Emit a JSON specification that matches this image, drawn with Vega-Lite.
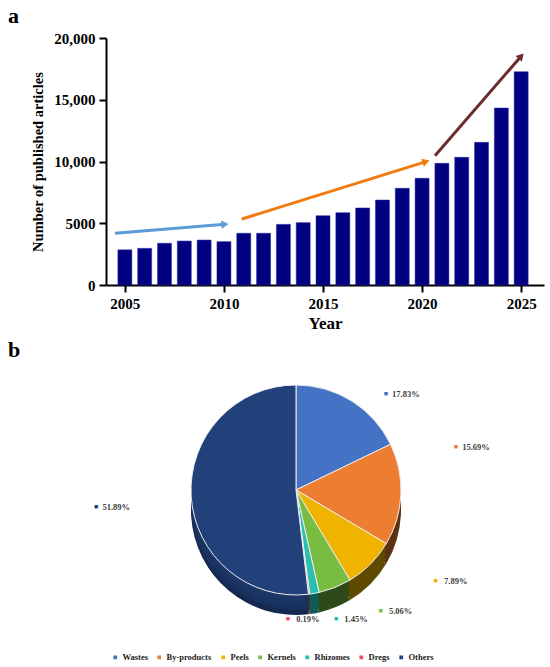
{
  "$schema": "https://vega.github.io/schema/vega-lite/v6.json",
  "padding": {"left": 8, "top": 5, "right": 5, "bottom": 5},
  "title": {"text": "a", "anchor": "start", "frame": "bounds", "fontSize": 22, "fontWeight": "bold", "offset": 3, "color": "black"},
  "config": {
    "font": "Liberation Serif",
    "view": {"stroke": null},
    "axis": {"grid": false, "domainColor": "black", "domainWidth": 2, "tickColor": "black", "tickWidth": 2, "tickSize": 7,
             "labelFontSize": 15, "labelFontWeight": "bold", "labelColor": "black", "titleFontSize": 16, "titleFontWeight": "bold", "titleColor": "black", "labelPadding": 4}
  },
  "spacing": 8,
  "resolve": {"scale": {"color": "independent"}},
  "vconcat": [
    {
      "width": 438,
      "height": 247,
      "layer": [
        {
          "data": {"values": [
            {"year": 2005, "articles": 2850}, {"year": 2006, "articles": 2970}, {"year": 2007, "articles": 3380},
            {"year": 2008, "articles": 3560}, {"year": 2009, "articles": 3640}, {"year": 2010, "articles": 3510},
            {"year": 2011, "articles": 4190}, {"year": 2012, "articles": 4190}, {"year": 2013, "articles": 4910},
            {"year": 2014, "articles": 5050}, {"year": 2015, "articles": 5610}, {"year": 2016, "articles": 5860},
            {"year": 2017, "articles": 6240}, {"year": 2018, "articles": 6880}, {"year": 2019, "articles": 7830},
            {"year": 2020, "articles": 8640}, {"year": 2021, "articles": 9850}, {"year": 2022, "articles": 10340},
            {"year": 2023, "articles": 11550}, {"year": 2024, "articles": 14330}, {"year": 2025, "articles": 17270}
          ]},
          "mark": {"type": "bar", "width": 14, "color": "#000080", "stroke": "#2a2aa8", "strokeWidth": 0.5},
          "encoding": {
            "x": {"field": "year", "type": "quantitative", "scale": {"domain": [2004.3, 2025.9], "nice": false, "zero": false},
                  "axis": {"values": [2005, 2010, 2015, 2020, 2025], "format": "d", "title": "Year", "titlePadding": 4, "titleFontSize": 17}},
            "y": {"field": "articles", "type": "quantitative", "scale": {"domain": [0, 20000], "nice": false},
                  "axis": {"values": [0, 5000, 10000, 15000, 20000], "title": "Number of published articles", "titlePadding": 8, "titleFontSize": 14.5,
                           "labelExpr": "datum.value >= 10000 ? format(datum.value, ',') : format(datum.value, 'd')"}}
          }
        },
        {
          "data": {"values": [
            {"arrow": "early", "x": 2004.5, "y": 4190, "x2": 2010.05, "y2": 4910},
            {"arrow": "middle", "x": 2010.9, "y": 5340, "x2": 2020.2, "y2": 9990},
            {"arrow": "late", "x": 2020.65, "y": 10470, "x2": 2025.0, "y2": 18530}
          ]},
          "layer": [
            {
              "mark": {"type": "rule", "strokeWidth": 3},
              "encoding": {
                "x": {"field": "x", "type": "quantitative"},
                "y": {"field": "y", "type": "quantitative"},
                "x2": {"field": "x2"},
                "y2": {"field": "y2"},
                "color": {"field": "arrow", "type": "nominal", "legend": null,
                          "scale": {"domain": ["early", "middle", "late"], "range": ["#5B9BD5", "#F07C10", "#6E2B2B"]}}
              }
            },
            {
              "transform": [{"filter": "datum.arrow == 'early'"}],
              "mark": {"type": "point", "shape": "triangle-right", "filled": true, "size": 70, "opacity": 1, "angle": 355.5},
              "encoding": {
                "x": {"field": "x2", "type": "quantitative"},
                "y": {"field": "y2", "type": "quantitative"},
                "color": {"field": "arrow", "type": "nominal", "legend": null}
              }
            },
            {
              "transform": [{"filter": "datum.arrow == 'middle'"}],
              "mark": {"type": "point", "shape": "triangle-right", "filled": true, "size": 70, "opacity": 1, "angle": 343},
              "encoding": {
                "x": {"field": "x2", "type": "quantitative"},
                "y": {"field": "y2", "type": "quantitative"},
                "color": {"field": "arrow", "type": "nominal", "legend": null}
              }
            },
            {
              "transform": [{"filter": "datum.arrow == 'late'"}],
              "mark": {"type": "point", "shape": "triangle-right", "filled": true, "size": 70, "opacity": 1, "angle": 311.6},
              "encoding": {
                "x": {"field": "x2", "type": "quantitative"},
                "y": {"field": "y2", "type": "quantitative"},
                "color": {"field": "arrow", "type": "nominal", "legend": null}
              }
            }
          ]
        }
      ]
    },
    {
      "width": 380,
      "height": 260,
      "title": {"text": "b", "anchor": "start", "frame": "group", "fontSize": 22, "fontWeight": "bold", "dx": -98, "offset": 2, "color": "black"},
      "data": {"values": [
        {"source": "Wastes", "share": 0.1783, "rank": 1},
        {"source": "By-products", "share": 0.1569, "rank": 2},
        {"source": "Peels", "share": 0.0789, "rank": 3},
        {"source": "Kernels", "share": 0.0506, "rank": 4},
        {"source": "Rhizomes", "share": 0.0145, "rank": 5},
        {"source": "Dregs", "share": 0.0019, "rank": 6},
        {"source": "Others", "share": 0.5189, "rank": 7}
      ]},
      "encoding": {
        "theta": {"field": "share", "type": "quantitative", "stack": true},
        "order": {"field": "rank", "type": "quantitative"}
      },
      "layer": [
        {
          "mark": {"type": "arc", "outerRadius": 105, "yOffset": 16},
          "encoding": {"color": {"field": "source", "type": "nominal", "legend": null,
            "scale": {"domain": ["Wastes", "By-products", "Peels", "Kernels", "Rhizomes", "Dregs", "Others"],
                      "range": ["#2b4a80", "#5c3210", "#5e4a00", "#2e4a1a", "#0f5c55", "#5a1a1e", "#152850"]}}}
        },
        {
          "mark": {"type": "arc", "outerRadius": 105, "yOffset": 11},
          "encoding": {"color": {"field": "source", "type": "nominal", "legend": null,
            "scale": {"domain": ["Wastes", "By-products", "Peels", "Kernels", "Rhizomes", "Dregs", "Others"],
                      "range": ["#2b4a80", "#5c3210", "#5e4a00", "#2e4a1a", "#0f5c55", "#5a1a1e", "#18305c"]}}}
        },
        {
          "mark": {"type": "arc", "outerRadius": 105, "yOffset": 6},
          "encoding": {"color": {"field": "source", "type": "nominal", "legend": null,
            "scale": {"domain": ["Wastes", "By-products", "Peels", "Kernels", "Rhizomes", "Dregs", "Others"],
                      "range": ["#2b4a80", "#5c3210", "#5e4a00", "#2e4a1a", "#0f5c55", "#5a1a1e", "#1a3462"]}}}
        },
        {
          "mark": {"type": "arc", "outerRadius": 105, "yOffset": 1},
          "encoding": {"color": {"field": "source", "type": "nominal", "legend": null,
            "scale": {"domain": ["Wastes", "By-products", "Peels", "Kernels", "Rhizomes", "Dregs", "Others"],
                      "range": ["#2b4a80", "#5c3210", "#5e4a00", "#2e4a1a", "#0f5c55", "#5a1a1e", "#1c3766"]}}}
        },
        {
          "mark": {"type": "arc", "outerRadius": 105, "yOffset": -4, "stroke": "#eeeeee", "strokeWidth": 1},
          "encoding": {"color": {"field": "source", "type": "nominal", "sort": null,
            "scale": {"domain": ["Wastes", "By-products", "Peels", "Kernels", "Rhizomes", "Dregs", "Others"],
                      "range": ["#4472C4", "#ED7D31", "#F0B400", "#78BC42", "#2BBFB0", "#F0506A", "#22407A"]},
            "legend": {"orient": "none", "legendX": 5, "legendY": 289, "direction": "horizontal", "title": null,
                       "symbolType": "square", "symbolSize": 14, "symbolStrokeWidth": 0, "labelFontSize": 8.5, "labelFontWeight": "bold",
                       "labelColor": "#222222", "columnPadding": 7, "labelOffset": 3, "columns": 7}}}
        },
        {
          "mark": {"type": "text", "radius": 124, "dx": 24, "dy": 5, "fontSize": 7, "color": "#4472C4"},
          "encoding": {"text": {"condition": {"test": "datum.source == 'Wastes'", "value": "■"}, "value": ""}}
        },
        {
          "mark": {"type": "text", "radius": 124, "dx": 44, "dy": 5, "fontSize": 8.5, "fontWeight": "bold", "color": "#404040"},
          "encoding": {"text": {"condition": {"test": "datum.source == 'Wastes'", "field": "share", "type": "quantitative", "format": ".2%"}, "value": ""}}
        },
        {
          "mark": {"type": "text", "radius": 60, "dx": 100, "dy": -50, "fontSize": 7, "color": "#ED7D31"},
          "encoding": {"text": {"condition": {"test": "datum.source == 'By-products'", "value": "■"}, "value": ""}}
        },
        {
          "mark": {"type": "text", "radius": 60, "dx": 120, "dy": -50, "fontSize": 8.5, "fontWeight": "bold", "color": "#404040"},
          "encoding": {"text": {"condition": {"test": "datum.source == 'By-products'", "field": "share", "type": "quantitative", "format": ".2%"}, "value": ""}}
        },
        {
          "mark": {"type": "text", "radius": 128, "dx": 49, "dy": -3, "fontSize": 7, "color": "#F0B400"},
          "encoding": {"text": {"condition": {"test": "datum.source == 'Peels'", "value": "■"}, "value": ""}}
        },
        {
          "mark": {"type": "text", "radius": 128, "dx": 69, "dy": -3, "fontSize": 8.5, "fontWeight": "bold", "color": "#404040"},
          "encoding": {"text": {"condition": {"test": "datum.source == 'Peels'", "field": "share", "type": "quantitative", "format": ".2%"}, "value": ""}}
        },
        {
          "mark": {"type": "text", "radius": 120, "dx": 40, "dy": 6, "fontSize": 7, "color": "#78BC42"},
          "encoding": {"text": {"condition": {"test": "datum.source == 'Kernels'", "value": "■"}, "value": ""}}
        },
        {
          "mark": {"type": "text", "radius": 120, "dx": 60, "dy": 6, "fontSize": 8.5, "fontWeight": "bold", "color": "#404040"},
          "encoding": {"text": {"condition": {"test": "datum.source == 'Kernels'", "field": "share", "type": "quantitative", "format": ".2%"}, "value": ""}}
        },
        {
          "mark": {"type": "text", "radius": 120, "dx": 19, "dy": 7, "fontSize": 7, "color": "#2BBFB0"},
          "encoding": {"text": {"condition": {"test": "datum.source == 'Rhizomes'", "value": "■"}, "value": ""}}
        },
        {
          "mark": {"type": "text", "radius": 120, "dx": 39, "dy": 7, "fontSize": 8.5, "fontWeight": "bold", "color": "#404040"},
          "encoding": {"text": {"condition": {"test": "datum.source == 'Rhizomes'", "field": "share", "type": "quantitative", "format": ".2%"}, "value": ""}}
        },
        {
          "mark": {"type": "text", "radius": 120, "dx": -23, "dy": 6, "fontSize": 7, "color": "#F0506A"},
          "encoding": {"text": {"condition": {"test": "datum.source == 'Dregs'", "value": "■"}, "value": ""}}
        },
        {
          "mark": {"type": "text", "radius": 120, "dx": -3, "dy": 6, "fontSize": 8.5, "fontWeight": "bold", "color": "#404040"},
          "encoding": {"text": {"condition": {"test": "datum.source == 'Dregs'", "field": "share", "type": "quantitative", "format": ".2%"}, "value": ""}}
        },
        {
          "mark": {"type": "text", "radius": 128, "dx": -72, "dy": 5, "fontSize": 7, "color": "#22407A"},
          "encoding": {"text": {"condition": {"test": "datum.source == 'Others'", "value": "■"}, "value": ""}}
        },
        {
          "mark": {"type": "text", "radius": 128, "dx": -52, "dy": 5, "fontSize": 8.5, "fontWeight": "bold", "color": "#404040"},
          "encoding": {"text": {"condition": {"test": "datum.source == 'Others'", "field": "share", "type": "quantitative", "format": ".2%"}, "value": ""}}
        }
      ],
      "resolve": {"scale": {"color": "independent"}}
    }
  ]
}
